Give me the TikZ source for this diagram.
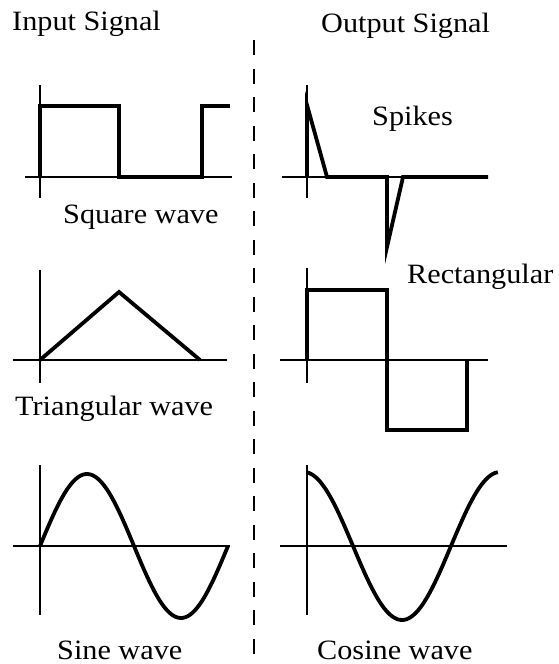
\documentclass[tikz,border=0pt]{standalone}
\usepackage{fontspec}
\setmainfont{Liberation Serif}[FakeStretch=1.08]
\begin{document}
\begin{tikzpicture}[x=1pt, y=-1pt,
  axis/.style={black, line width=1.7pt},
  wave/.style={black, line width=3.8pt, line join=miter},
  divider/.style={black, line width=2pt, dash pattern=on 15pt off 13.5pt},
  caption/.style={anchor=base west, inner sep=0pt, font=\fontsize{28}{33}\selectfont}]

\useasboundingbox (0,0) rectangle (559,664);

% titles and separating line
\node[caption] (intitle) at (12,30) {Input Signal};
\node[caption] (outtitle) at (321,32) {Output Signal};
\draw[divider] (254,40) -- (254,664);

% square wave -> spikes
\draw[axis] (40,85) -- (40,198);
\draw[axis] (25,177) -- (232,177);
\draw[wave] (40,177) -- (40,106) -- (119,106) -- (119,177) -- (202,177) -- (202,106) -- (230,106);
\node[caption] (sqlabel) at (63,223) {Square wave};

\draw[axis] (307,85) -- (307,198);
\draw[axis] (282,177) -- (488,177);
\draw[wave] (307,177) -- (307,105) -- (327,177) -- (387,177) -- (387,247) -- (403,177) -- (488,177);
\node[caption] (spklabel) at (372,125) {Spikes};

% triangular wave -> rectangular
\draw[axis] (40,270) -- (40,383);
\draw[axis] (13,360) -- (227,360);
\draw[wave] (40,360) -- (119,292) -- (200,360);
\node[caption] (trilabel) at (15,415) {Triangular wave};

\draw[axis] (307,268) -- (307,383);
\draw[axis] (280,360) -- (488,360);
\draw[wave] (307,360) -- (307,290) -- (387,290) -- (387,430) -- (467,430) -- (467,360);
\node[caption] (reclabel) at (407,283) {Rectangular};

% sine wave -> cosine wave
\draw[axis] (40,465) -- (40,615);
\draw[axis] (13,546) -- (230,546);
\draw[wave] plot[domain=0:360, samples=80] ({40+\x/360*188}, {546-72*sin(\x)});
\node[caption] (sinlabel) at (57,659) {Sine wave};

\draw[axis] (307,465) -- (307,615);
\draw[axis] (280,546) -- (507,546);
\draw[wave] plot[domain=5:356, samples=80] ({304+\x/360*196}, {546-74*cos(\x)});
\node[caption] (coslabel) at (317,659) {Cosine wave};

\end{tikzpicture}
\end{document}
